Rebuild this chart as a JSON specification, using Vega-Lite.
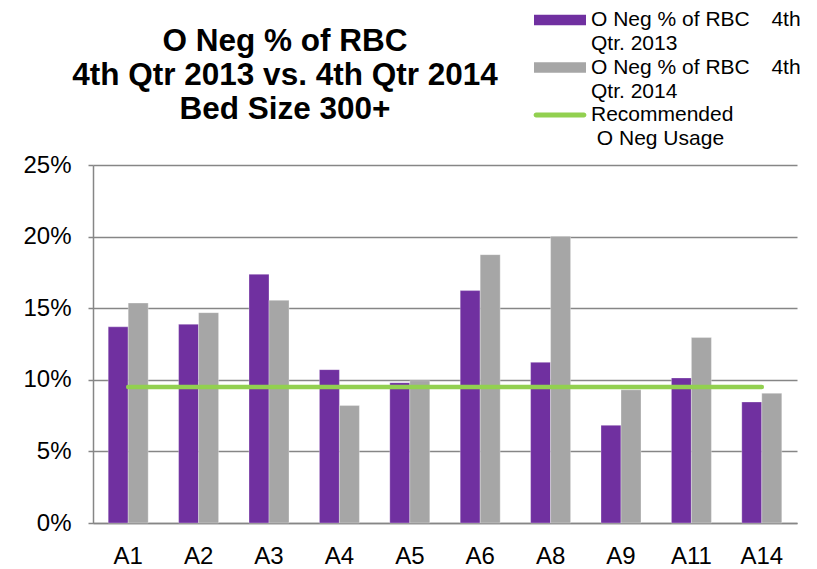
{
  "$schema": "https://vega.github.io/schema/vega-lite/v6.json",
  "width": 704,
  "height": 358,
  "autosize": {"type": "none"},
  "padding": {"left": 93, "top": 165, "right": 20, "bottom": 46},
  "background": "white",
  "config": {
    "font": "Liberation Sans",
    "view": {"stroke": null}
  },
  "title": {
    "text": ["O Neg % of RBC", "4th Qtr 2013 vs. 4th Qtr 2014", "Bed Size 300+"],
    "font": "Liberation Sans",
    "fontSize": 31.5,
    "fontWeight": "bold",
    "color": "#000000",
    "lineHeight": 34,
    "anchor": "middle",
    "frame": "group",
    "dx": -160,
    "baseline": "alphabetic",
    "offset": -143
  },
  "datasets": {
    "bars": [
      {"site": "A1", "series": "O Neg % of RBC 4th Qtr. 2013", "value": 0.137},
      {"site": "A1", "series": "O Neg % of RBC 4th Qtr. 2014", "value": 0.1536},
      {"site": "A2", "series": "O Neg % of RBC 4th Qtr. 2013", "value": 0.1388},
      {"site": "A2", "series": "O Neg % of RBC 4th Qtr. 2014", "value": 0.1469},
      {"site": "A3", "series": "O Neg % of RBC 4th Qtr. 2013", "value": 0.1737},
      {"site": "A3", "series": "O Neg % of RBC 4th Qtr. 2014", "value": 0.1555},
      {"site": "A4", "series": "O Neg % of RBC 4th Qtr. 2013", "value": 0.1071},
      {"site": "A4", "series": "O Neg % of RBC 4th Qtr. 2014", "value": 0.082},
      {"site": "A5", "series": "O Neg % of RBC 4th Qtr. 2013", "value": 0.098},
      {"site": "A5", "series": "O Neg % of RBC 4th Qtr. 2014", "value": 0.0994},
      {"site": "A6", "series": "O Neg % of RBC 4th Qtr. 2013", "value": 0.1623},
      {"site": "A6", "series": "O Neg % of RBC 4th Qtr. 2014", "value": 0.1874},
      {"site": "A8", "series": "O Neg % of RBC 4th Qtr. 2013", "value": 0.1122},
      {"site": "A8", "series": "O Neg % of RBC 4th Qtr. 2014", "value": 0.2002},
      {"site": "A9", "series": "O Neg % of RBC 4th Qtr. 2013", "value": 0.0682},
      {"site": "A9", "series": "O Neg % of RBC 4th Qtr. 2014", "value": 0.093},
      {"site": "A11", "series": "O Neg % of RBC 4th Qtr. 2013", "value": 0.1013},
      {"site": "A11", "series": "O Neg % of RBC 4th Qtr. 2014", "value": 0.1295},
      {"site": "A14", "series": "O Neg % of RBC 4th Qtr. 2013", "value": 0.0845},
      {"site": "A14", "series": "O Neg % of RBC 4th Qtr. 2014", "value": 0.0906}
    ],
    "rec": [
      {"site": "A1", "series": "Recommended O Neg Usage", "value": 0.095},
      {"site": "A2", "series": "Recommended O Neg Usage", "value": 0.095},
      {"site": "A3", "series": "Recommended O Neg Usage", "value": 0.095},
      {"site": "A4", "series": "Recommended O Neg Usage", "value": 0.095},
      {"site": "A5", "series": "Recommended O Neg Usage", "value": 0.095},
      {"site": "A6", "series": "Recommended O Neg Usage", "value": 0.095},
      {"site": "A8", "series": "Recommended O Neg Usage", "value": 0.095},
      {"site": "A9", "series": "Recommended O Neg Usage", "value": 0.095},
      {"site": "A11", "series": "Recommended O Neg Usage", "value": 0.095},
      {"site": "A14", "series": "Recommended O Neg Usage", "value": 0.095}
    ]
  },
  "encoding": {
    "x": {
      "field": "site",
      "type": "nominal",
      "sort": ["A1", "A2", "A3", "A4", "A5", "A6", "A8", "A9", "A11", "A14"],
      "scale": {"paddingInner": 0.432, "paddingOuter": 0.216},
      "axis": {
        "title": null,
        "labelAngle": 0,
        "labelFontSize": 24,
        "labelColor": "#000000",
        "labelPadding": 21,
        "ticks": false,
        "domainColor": "#868686",
        "domainWidth": 1.5,
        "grid": false
      }
    },
    "y": {
      "field": "value",
      "type": "quantitative",
      "scale": {"domain": [0, 0.25], "nice": false, "zero": true},
      "axis": {
        "title": null,
        "values": [0, 0.05, 0.1, 0.15, 0.2, 0.25],
        "format": ".0%",
        "labelFontSize": 24,
        "labelColor": "#000000",
        "labelPadding": 17,
        "tickSize": 5,
        "tickColor": "#868686",
        "tickWidth": 1.5,
        "domainColor": "#868686",
        "domainWidth": 1.5,
        "gridColor": "#868686",
        "gridWidth": 1.5
      }
    },
    "color": {
      "field": "series",
      "type": "nominal",
      "scale": {
        "domain": ["O Neg % of RBC 4th Qtr. 2013", "O Neg % of RBC 4th Qtr. 2014", "Recommended O Neg Usage"],
        "range": ["#7030A0", "#A6A6A6", "#92D050"]
      },
      "legend": {
        "title": null,
        "orient": "none",
        "legendX": 454,
        "legendY": -158,
        "symbolType": "M-2,-0.4H2V0.4H-2Z",
        "symbolSize": 676,
        "symbolStrokeWidth": 0,
        "labelFontSize": 21,
        "labelColor": "#000000",
        "labelOffset": 18,
        "labelLimit": 400,
        "rowPadding": 0.5,
        "labelExpr": "datum.label == 'O Neg % of RBC 4th Qtr. 2013' ? ['O Neg % of RBC\u00a0\u00a0\u00a0\u20094th', 'Qtr. 2013'] : datum.label == 'O Neg % of RBC 4th Qtr. 2014' ? ['O Neg % of RBC\u00a0\u00a0\u00a0\u20094th', 'Qtr. 2014'] : ['Recommended', '\u200b\u00a0O Neg Usage']",
        "encode": {
          "symbols": {
            "update": {
              "shape": {"signal": "datum.value == 'Recommended O Neg Usage' ? 'M-1.84,-0.19H1.84A0.19,0.19 0 0 1 1.84,0.19H-1.84A0.19,0.19 0 0 1 -1.84,-0.19Z' : 'M-2,-0.4H2V0.4H-2Z'"},
              "fill": {"signal": "scale('color', datum.value)"},
              "fillOpacity": {"value": 1}
            }
          },
          "labels": {
            "update": {
              "lineHeight": {"value": 24}
            }
          }
        }
      }
    }
  },
  "layer": [
    {
      "data": {"name": "bars"},
      "mark": {"type": "bar", "stroke": "#ffffff", "strokeWidth": 0.5, "strokeOpacity": 0.6},
      "encoding": {
        "xOffset": {"field": "series", "type": "nominal", "sort": ["O Neg % of RBC 4th Qtr. 2013", "O Neg % of RBC 4th Qtr. 2014"]}
      }
    },
    {
      "data": {"name": "rec"},
      "mark": {"type": "line", "strokeWidth": 4.5, "strokeCap": "round"},
      "encoding": {}
    }
  ]
}
